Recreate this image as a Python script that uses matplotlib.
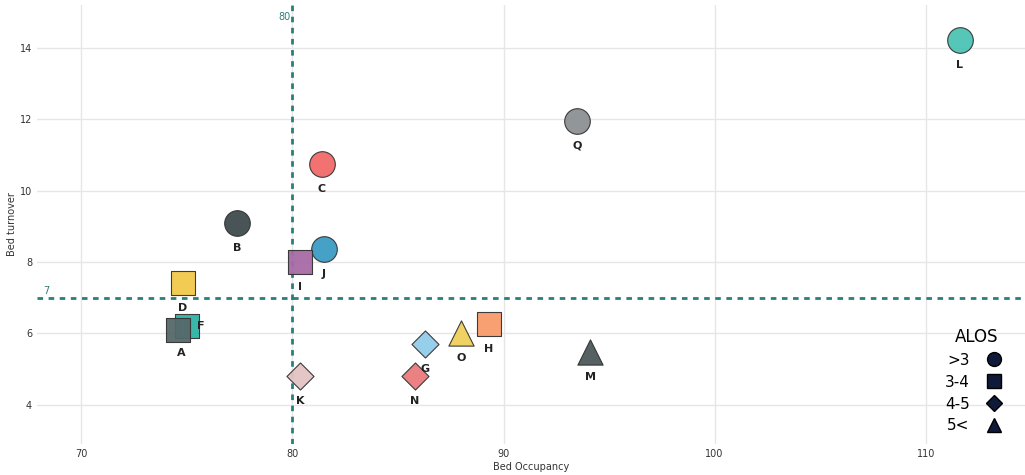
import matplotlib.pyplot as plt
from matplotlib.lines import Line2D

# hospital units (F drawn before A so A sits on top, as in the source)
names = ["F", "A", "D", "B", "C", "J", "I", "K", "G", "N", "O", "H", "M", "Q", "L"]
occupancy = [75.0, 74.6, 74.8, 77.4, 81.4, 81.5, 80.35, 80.35, 86.3, 85.8, 88.0, 89.3, 94.1, 93.5, 111.6]
turnover = [6.2, 6.1, 7.4, 9.1, 10.75, 8.35, 8.0, 4.8, 5.7, 4.8, 6.0, 6.25, 5.47, 11.95, 14.2]
alos = ["3-4", "3-4", "3-4", ">3", ">3", ">3", "3-4", "4-5", "4-5", "4-5", "5<", "3-4", "5<", ">3", ">3"]
colors = ["#2db3a6", "#56686a", "#f2c94a", "#3f4b4d", "#f26a6a", "#3b9cc2", "#a86aa6",
          "#e3c3c4", "#8fcdea", "#ea7a7c", "#f0cf5c", "#f99b6b", "#4c585b", "#8c9193", "#4cc3b3"]

alos_groups = [">3", "3-4", "4-5", "5<"]
alos_markers = {">3": "o", "3-4": "s", "4-5": "D", "5<": "^"}
alos_sizes = {">3": 340, "3-4": 320, "4-5": 190, "5<": 330}

# label offsets (points) where the default "below" spot would clash
label_offset = {"F": (10, 0), "A": (2, -17), "D": (0, -18)}

occ_ref = 80
turn_ref = 7
teal = "#2a7f78"

fig, ax = plt.subplots(figsize=(10.25, 4.75), dpi=100)
fig.subplots_adjust(left=0.036, right=1.0, top=0.99, bottom=0.065)

for n, x, y, g, c in zip(names, occupancy, turnover, alos, colors):
    ax.scatter(x, y, s=alos_sizes[g], marker=alos_markers[g], color=c,
               edgecolors="#333333", linewidths=0.8, alpha=0.95, zorder=3)
    ax.annotate(n, (x, y), xytext=label_offset.get(n, (0, -18)), textcoords="offset points",
                ha="center", va="center", fontsize=8, fontweight="bold",
                color="#222222", zorder=4)

ax.axvline(occ_ref, color=teal, linestyle=(0, (2, 2)), linewidth=2, zorder=2)
ax.axhline(turn_ref, color=teal, linestyle=(0, (2, 2)), linewidth=2, zorder=2)
ax.text(occ_ref - 0.1, 14.85, str(occ_ref), color=teal, fontsize=7, ha="right", va="center")
ax.text(68.2, turn_ref + 0.05, str(turn_ref), color=teal, fontsize=7, ha="left", va="bottom")

ax.set_xlim(67.9, 114.7)
ax.set_ylim(2.9, 15.2)
ax.set_xticks([70, 80, 90, 100, 110])
ax.set_yticks([4, 6, 8, 10, 12, 14])
ax.grid(color="#e6e6e6", linewidth=1)
ax.set_axisbelow(True)
for s in ax.spines.values():
    s.set_visible(False)
ax.tick_params(length=0, labelsize=7, colors="#333333")
ax.set_xlabel("Bed Occupancy", fontsize=7, color="#333333", labelpad=2)
ax.set_ylabel("Bed turnover", fontsize=7, color="#333333", labelpad=2)

handles = [Line2D([], [], marker=alos_markers[g], color="none", markerfacecolor="#0f1a3a",
                  markeredgecolor="black", markersize=10 if g != "4-5" else 8, label=g)
           for g in alos_groups]
leg = ax.legend(handles=handles, title="ALOS", markerfirst=False, frameon=False,
                loc="lower right", bbox_to_anchor=(0.995, 0.0), fontsize=11,
                title_fontsize=12, handletextpad=0.6, labelspacing=0.45, borderaxespad=0.3)

fig.savefig("out.png")
